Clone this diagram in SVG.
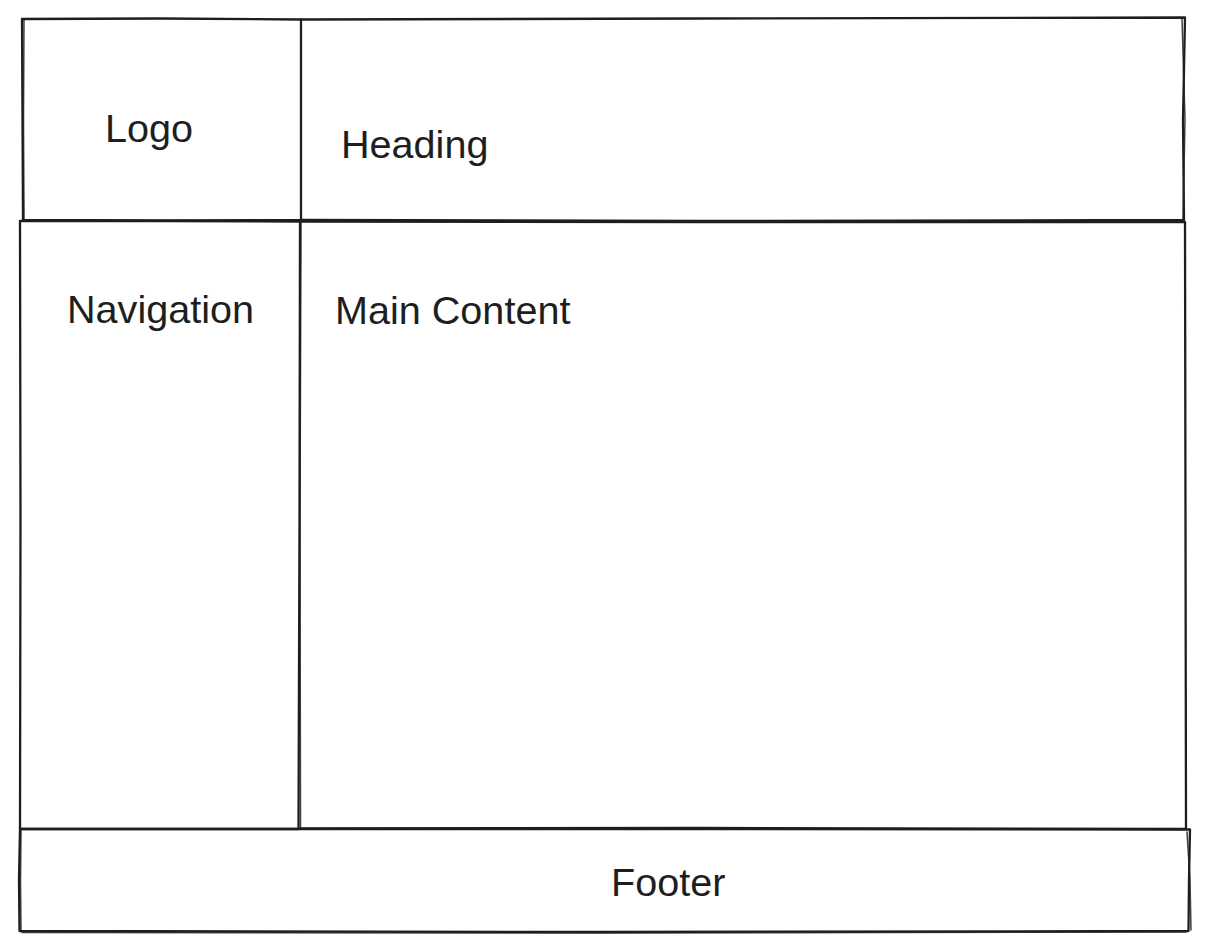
<svg xmlns="http://www.w3.org/2000/svg" width="1210" height="952" viewBox="0 0 1210 952">
  <style>
    .box { fill: none; stroke: #1e1e1e; stroke-width: 2.3; stroke-linecap: round; stroke-linejoin: round; }
    .sk { fill: none; stroke: #1e1e1e; stroke-width: 1.5; stroke-linecap: round; opacity: 0.85; }
    .lbl { font-family: "Liberation Sans", Arial, Helvetica, sans-serif; font-size: 39.6px; fill: #1e1e1e; }
  </style>
  <rect width="1210" height="952" fill="#ffffff"/>
  <g id="logo">
    <path class="box" d="M22,19 L160,18.5 L301,19.5 L301,220 L160,220.5 L23,220 L22.5,120 Z"/>
    <path class="sk" d="M24,20 L23.5,120 L24,219"/>
    <text class="lbl" x="105" y="142">Logo</text>
  </g>
  <g id="heading">
    <path class="box" d="M301,19.5 L700,18.5 L1185,17.5 L1183,120 L1184,220 L700,221 L301,220"/>
    <path class="sk" d="M1182,19 L1185,120 L1183,219"/>
    <text class="lbl" x="341" y="158">Heading</text>
  </g>
  <g id="navigation">
    <path class="box" d="M20,221 L160,221 L300,221.5 L299.5,520 L298.5,829 L160,829 L20,829 L20.5,520 Z"/>
    <path class="sk" d="M301,223 L300,520 L300.5,827"/>
    <text class="lbl" x="67" y="323">Navigation</text>
  </g>
  <g id="main-content">
    <path class="box" d="M300,221.5 L700,222 L1185,222 L1185.5,520 L1186,829 L700,828 L299,828.5"/>
    <text class="lbl" x="335" y="324">Main Content</text>
  </g>
  <g id="footer">
    <path class="box" d="M20,829 L600,829 L1190,829.5 L1189,880 L1188.5,931 L600,932 L19.5,931 L19,880 Z"/>
    <path class="sk" d="M1187,832 L1190,880 L1191,930"/>
    <path class="sk" d="M21,831 L20.5,880 L21,930"/>
    <path class="sk" d="M22,932.5 L600,933 L1186,932"/>
    <text class="lbl" x="611" y="896">Footer</text>
  </g>
  <g id="connectors"></g>
</svg>
